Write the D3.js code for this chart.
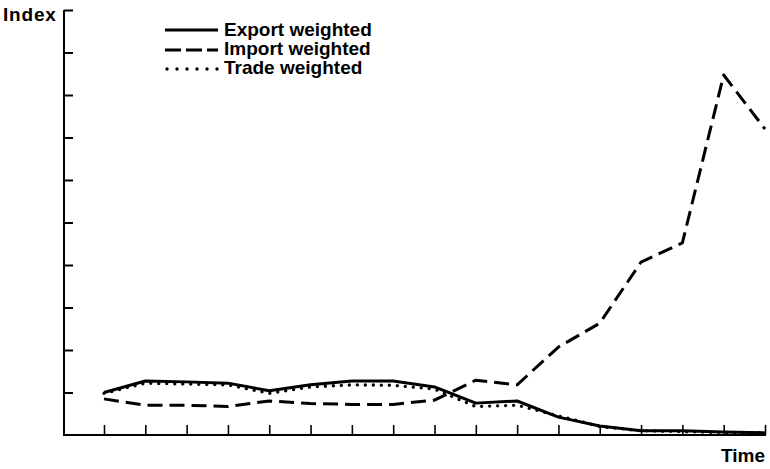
<!DOCTYPE html>
<html><head><meta charset="utf-8">
<script src="https://cdn.jsdelivr.net/npm/d3@7"></script>
<style>body{margin:0;background:#fff}svg{display:block}text{font-family:"Liberation Sans",Arial,Helvetica,sans-serif;font-weight:bold;fill:#000}</style>
</head><body><svg id="c" width="770" height="469"></svg>
<script>
const periods = [1,2,3,4,5,6,7,8,9,10,11,12,13,14,15,16,17];
const exportWeighted = [1.00,1.27,1.25,1.22,1.04,1.18,1.27,1.27,1.13,0.75,0.80,0.42,0.21,0.10,0.10,0.07,0.05];
const importWeighted = [0.85,0.70,0.70,0.67,0.80,0.74,0.72,0.72,0.82,1.29,1.18,2.07,2.63,4.07,4.52,8.47,7.20];
const tradeWeighted  = [0.98,1.22,1.20,1.18,0.98,1.13,1.18,1.17,1.08,0.67,0.70,0.45,0.20,0.10,0.08,0.06,0.05];
const yTicks = [1,2,3,4,5,6,7,8,9,10];
const seriesNames = ["Export weighted","Import weighted","Trade weighted"];

const svg = d3.select("#c");
const x = d3.scaleLinear().domain([1,17]).range([104,765]);
const y = d3.scaleLinear().domain([0,10]).range([435,10]);
const x0 = 64, x1 = 766;

// axes
const yAxis = d3.axisRight(y).tickValues(yTicks).tickSize(9).tickSizeOuter(0).tickFormat("");
const gy = svg.append("g").attr("transform",`translate(${x0},0)`).call(yAxis);
gy.select(".domain").remove();
gy.selectAll("line").attr("stroke","#000").attr("stroke-width",2);
const xAxis = d3.axisTop(x).tickValues(periods).tickSize(10).tickSizeOuter(0).tickFormat("");
const gx = svg.append("g").attr("transform",`translate(0,${y(0)})`).call(xAxis);
gx.select(".domain").remove();
gx.selectAll("line").attr("stroke","#000").attr("stroke-width",1.6);
svg.append("path").attr("d",`M${x0},${y(10)}V${y(0)}H${x1}`).attr("fill","none").attr("stroke","#000").attr("stroke-width",2);

const line = d3.line().x((d,i)=>x(periods[i])).y(d=>y(d));
const styles = [
  {data:exportWeighted, dash:null, legDash:null, cap:"butt", w:3},
  {data:importWeighted, dash:"15,7", legDash:"16,5", cap:"butt", w:3},
  {data:tradeWeighted, dash:"0,8", legDash:"0,10", cap:"round", w:3.4}
];
styles.forEach(s=>{
  svg.append("path").datum(s.data).attr("d",line).attr("fill","none").attr("stroke","#000")
    .attr("stroke-width",s.w).attr("stroke-dasharray",s.dash).attr("stroke-linecap",s.cap).attr("stroke-linejoin","round");
});

// legend
const legY = [30,50,69];
const legTextY = [36,55,74];
styles.forEach((s,i)=>{
  svg.append("line").attr("x1",i===2?167:165).attr("x2",218).attr("y1",legY[i]).attr("y2",legY[i])
    .attr("stroke","#000").attr("stroke-width",s.w).attr("stroke-dasharray",s.legDash).attr("stroke-linecap",s.cap);
  svg.append("text").attr("x",224).attr("y",legTextY[i]).attr("font-size",19).text(seriesNames[i]);
});

svg.append("text").attr("x",3).attr("y",21).attr("font-size",19).attr("letter-spacing",0.8).text("Index");
svg.append("text").attr("x",765).attr("y",462).attr("font-size",19).attr("text-anchor","end").text("Time");
</script></body></html>
